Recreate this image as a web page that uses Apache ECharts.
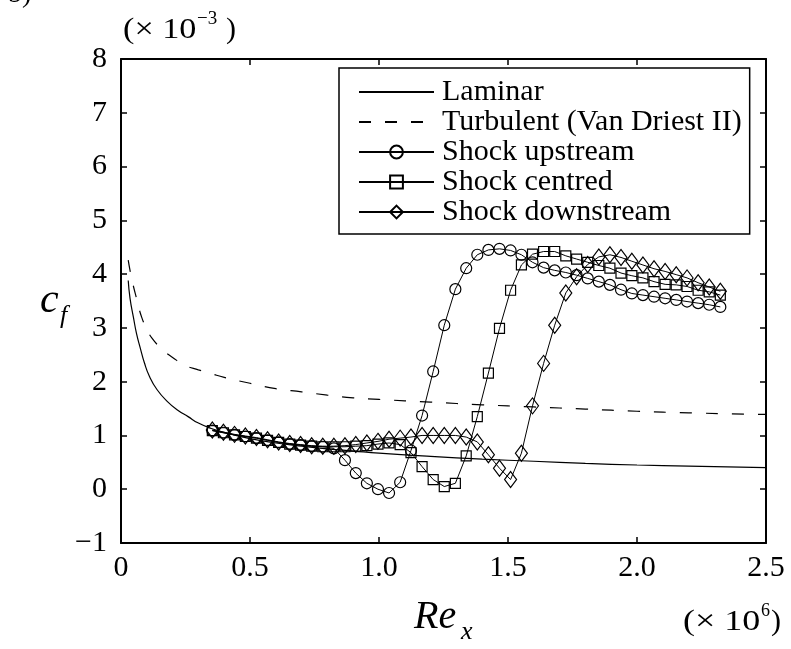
<!DOCTYPE html>
<html>
<head>
<meta charset="utf-8">
<script src="https://cdn.jsdelivr.net/npm/echarts@6/dist/echarts.min.js"></script>
<style>
html,body{margin:0;padding:0;background:#fff;}
#chart{width:791px;height:649px;}
</style>
</head>
<body>
<div id="chart"></div>
<script>
// Re_x (x 10^6) sample positions shared by the three shock series
var shockRe = [0.354,0.397,0.440,0.482,0.525,0.568,0.611,0.654,0.696,0.739,0.782,0.825,0.868,0.910,0.953,0.996,1.039,1.082,1.124,1.167,1.210,1.253,1.296,1.338,1.381,1.424,1.467,1.510,1.552,1.595,1.638,1.681,1.724,1.766,1.809,1.852,1.895,1.938,1.980,2.023,2.066,2.109,2.152,2.194,2.237,2.280,2.323];
// c_f (x 10^-3)
var upstream = [1.09,1.05,1.01,0.98,0.95,0.91,0.87,0.84,0.82,0.80,0.79,0.76,0.54,0.30,0.11,0.00,-0.07,0.13,0.72,1.37,2.19,3.05,3.72,4.11,4.36,4.45,4.47,4.44,4.36,4.22,4.12,4.07,4.03,3.98,3.92,3.86,3.80,3.71,3.64,3.61,3.58,3.55,3.52,3.49,3.46,3.43,3.39];
var centred = [1.09,1.05,1.01,0.98,0.95,0.91,0.87,0.84,0.82,0.80,0.79,0.79,0.79,0.80,0.81,0.84,0.86,0.83,0.68,0.42,0.18,0.05,0.11,0.62,1.35,2.16,2.99,3.70,4.17,4.37,4.42,4.42,4.34,4.28,4.22,4.16,4.11,4.02,3.97,3.93,3.86,3.81,3.80,3.77,3.70,3.67,3.61];
var downstream = [1.10,1.06,1.02,0.99,0.96,0.92,0.88,0.85,0.83,0.81,0.80,0.80,0.81,0.83,0.86,0.89,0.93,0.95,0.97,1.00,1.00,1.00,1.00,0.97,0.88,0.64,0.39,0.18,0.67,1.55,2.34,3.05,3.65,3.95,4.18,4.32,4.36,4.31,4.24,4.17,4.10,4.05,3.99,3.93,3.84,3.76,3.68];
// laminar curve
var laminarRe = [0.028,0.035,0.048,0.06,0.075,0.09,0.11,0.14,0.18,0.22,0.26,0.30,0.35,0.40,0.50,0.60,0.70,0.80,0.90,1.00,1.20,1.40,1.60,1.80,2.00,2.20,2.50];
var laminarCf = [3.88,3.55,3.20,2.90,2.62,2.36,2.10,1.85,1.63,1.47,1.35,1.23,1.13,1.06,0.94,0.86,0.80,0.75,0.71,0.67,0.61,0.56,0.52,0.48,0.45,0.43,0.40];
// turbulent (Van Driest II) curve
var turbRe = [0.028,0.04,0.06,0.08,0.10,0.12,0.16,0.20,0.25,0.30,0.35,0.40,0.50,0.60,0.70,0.80,0.90,1.00,1.20,1.40,1.60,1.80,2.00,2.20,2.50];
var turbCf = [4.26,3.95,3.55,3.20,2.98,2.81,2.60,2.45,2.30,2.22,2.15,2.08,1.97,1.87,1.81,1.75,1.70,1.67,1.62,1.57,1.53,1.49,1.45,1.42,1.39];
var xTicks = [0,0.5,1.0,1.5,2.0,2.5];
var yTicks = [-1,0,1,2,3,4,5,6,7,8];
var seriesNames = ['Laminar','Turbulent (Van Driest II)','Shock upstream','Shock centred','Shock downstream'];

function pairs(xs, ys){ var out=[]; for(var i=0;i<xs.length;i++){ out.push([xs[i], ys[i]]); } return out; }

var FONT = 'Liberation Serif';
var chart = echarts.init(document.getElementById('chart'), null, {renderer:'canvas'});

var axisLine = {show:true, onZero:false, lineStyle:{color:'#000', width:2}};
var tick = {show:true, inside:true, length:6, lineStyle:{color:'#000', width:1.5}};

var markerStyle = {color:'rgba(0,0,0,0)', borderColor:'#000', borderWidth:1.2};
var hiddenSym = {color:'rgba(0,0,0,0)', borderColor:'rgba(0,0,0,0)', borderWidth:0, opacity:0};

var option = {
  animation:false,
  backgroundColor:'#fff',
  grid:{left:121, right:25, top:59, bottom:106, containLabel:false},
  xAxis:[{
    type:'value', min:xTicks[0], max:xTicks[xTicks.length-1], interval:0.5,
    axisLine:axisLine, axisTick:tick, splitLine:{show:false},
    axisLabel:{color:'#000', fontFamily:FONT, fontSize:30, margin:10,
      formatter:function(v){ return v===0 ? '0' : v.toFixed(1); }}
  },{
    type:'value', position:'top', min:xTicks[0], max:xTicks[xTicks.length-1], interval:0.5,
    axisLine:axisLine, axisTick:tick, axisLabel:{show:false}, splitLine:{show:false}
  }],
  yAxis:[{
    type:'value', min:yTicks[0], max:yTicks[yTicks.length-1], interval:1,
    axisLine:axisLine, axisTick:tick, splitLine:{show:false},
    axisLabel:{color:'#000', fontFamily:FONT, fontSize:30, margin:14,
      formatter:function(v){ return String(v).replace('-', '\u2212'); }}
  },{
    type:'value', position:'right', min:yTicks[0], max:yTicks[yTicks.length-1], interval:1,
    axisLine:axisLine, axisTick:tick, axisLabel:{show:false}, splitLine:{show:false}
  }],
  legend:{
    orient:'vertical', left:339, top:68,
    itemWidth:75, itemHeight:16, itemGap:0,
    padding:[9,8,7,19],
    backgroundColor:'#fff', borderColor:'#000', borderWidth:1.5, borderRadius:0,
    textStyle:{fontFamily:FONT, fontSize:30, color:'#000', lineHeight:30, padding:[0,0,0,3]},
    data:[
      {name:seriesNames[0], itemStyle:hiddenSym},
      {name:seriesNames[1], itemStyle:hiddenSym},
      seriesNames[2], seriesNames[3], seriesNames[4]
    ]
  },
  series:[{
    name:seriesNames[0], type:'line', data:pairs(laminarRe, laminarCf),
    symbol:'none', smooth:true, lineStyle:{color:'#000', width:1.2}, itemStyle:{color:'#000'}, z:2
  },{
    name:seriesNames[1], type:'line', data:pairs(turbRe, turbCf),
    symbol:'none', smooth:true, lineStyle:{color:'#000', width:1.2, type:[12,14]}, itemStyle:{color:'#000'}, z:2
  },{
    name:seriesNames[2], type:'line', data:pairs(shockRe, upstream),
    symbol:'circle', symbolSize:11, lineStyle:{color:'#000', width:1}, itemStyle:markerStyle, z:3
  },{
    name:seriesNames[3], type:'line', data:pairs(shockRe, centred),
    symbol:'rect', symbolSize:10, lineStyle:{color:'#000', width:1}, itemStyle:markerStyle, z:3
  },{
    name:seriesNames[4], type:'line', data:pairs(shockRe, downstream),
    symbol:'diamond', symbolSize:[12,16], lineStyle:{color:'#000', width:1}, itemStyle:markerStyle, z:3
  }],
  graphic:[
    {type:'text', x:8, y:-19, style:{text:'b)', font:'28px "Liberation Serif"', fill:'#000'}},
    {type:'text', x:123, y:15, scaleX:1.14, style:{text:'(\u00d7 10', font:'30px "Liberation Serif"', fill:'#000'}},
    {type:'text', x:197, y:10, style:{text:'\u22123', font:'19px "Liberation Serif"', fill:'#000'}},
    {type:'text', x:226, y:15, style:{text:')', font:'30px "Liberation Serif"', fill:'#000'}},
    {type:'text', x:40, y:280, style:{text:'c', font:'italic 42px "Liberation Serif"', fill:'#000'}},
    {type:'text', x:60, y:303, style:{text:'f', font:'italic 26px "Liberation Serif"', fill:'#000'}},
    {type:'text', x:414, y:597, style:{text:'Re', font:'italic 40px "Liberation Serif"', fill:'#000'}},
    {type:'text', x:461, y:619, style:{text:'x', font:'italic 26px "Liberation Serif"', fill:'#000'}},
    {type:'text', x:683, y:607, scaleX:1.2, style:{text:'(\u00d7 10', font:'30px "Liberation Serif"', fill:'#000'}},
    {type:'text', x:761, y:602, style:{text:'6', font:'18px "Liberation Serif"', fill:'#000'}},
    {type:'text', x:771, y:607, style:{text:')', font:'30px "Liberation Serif"', fill:'#000'}}
  ]
};
chart.setOption(option);
</script>
</body>
</html>
